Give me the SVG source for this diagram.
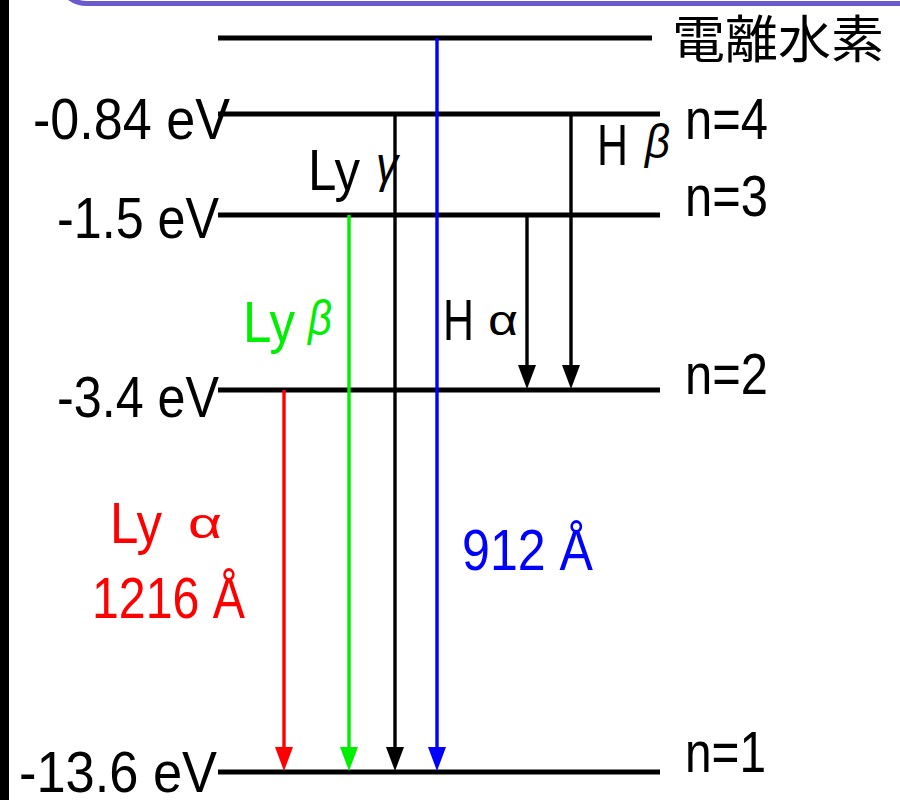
<svg xmlns="http://www.w3.org/2000/svg" width="900" height="800" viewBox="0 0 900 800">
<style>
.lvl{stroke:#000;stroke-width:5;fill:none}
.tr{stroke-width:3.4;fill:none}
.t{font-family:"Liberation Sans",Arial,sans-serif;font-size:57px}
.g{font-family:"Liberation Sans",Arial,sans-serif}
</style>
<defs>
<marker id="aK" markerUnits="userSpaceOnUse" viewBox="0 0 24 18" refX="14" refY="9" markerWidth="24" markerHeight="18" orient="auto"><path d="M0,0L24,9L0,18z" fill="#000"/></marker>
<marker id="aR" markerUnits="userSpaceOnUse" viewBox="0 0 24 18" refX="14" refY="9" markerWidth="24" markerHeight="18" orient="auto"><path d="M0,0L24,9L0,18z" fill="#ff0000"/></marker>
<marker id="aG" markerUnits="userSpaceOnUse" viewBox="0 0 24 18" refX="14" refY="9" markerWidth="24" markerHeight="18" orient="auto"><path d="M0,0L24,9L0,18z" fill="#00ee00"/></marker>
<marker id="aB" markerUnits="userSpaceOnUse" viewBox="0 0 24 18" refX="14" refY="9" markerWidth="24" markerHeight="18" orient="auto"><path d="M0,0L24,9L0,18z" fill="#0000ff"/></marker>
</defs>
<rect x="0" y="0" width="900" height="800" fill="#fff"/>
<rect x="0" y="0" width="9" height="800" fill="#000"/>
<rect x="56.5" y="-60" width="900" height="63.5" rx="30.5" fill="none" stroke="#6a5acd" stroke-width="5"/>

<g id="ionized">
<line class="lvl" x1="218" y1="38" x2="652" y2="38"/>
<text x="672" y="58" font-family="'Noto Sans CJK JP','Noto Sans CJK TC',sans-serif" font-size="51" textLength="212" lengthAdjust="spacingAndGlyphs">電離水素</text>
</g>
<g id="n4">
<line class="lvl" x1="218" y1="114" x2="660" y2="114"/>
<text class="t" x="33" y="139" textLength="197" lengthAdjust="spacingAndGlyphs">-0.84 eV</text>
<text class="t" x="685" y="139" textLength="83" lengthAdjust="spacingAndGlyphs">n=4</text>
</g>
<g id="n3">
<line class="lvl" x1="218" y1="215" x2="660" y2="215"/>
<text class="t" x="57" y="238" textLength="162" lengthAdjust="spacingAndGlyphs">-1.5 eV</text>
<text class="t" x="685" y="216" textLength="83" lengthAdjust="spacingAndGlyphs">n=3</text>
</g>
<g id="n2">
<line class="lvl" x1="218" y1="390" x2="660" y2="390"/>
<text class="t" x="57" y="417" textLength="162" lengthAdjust="spacingAndGlyphs">-3.4 eV</text>
<text class="t" x="685" y="394" textLength="83" lengthAdjust="spacingAndGlyphs">n=2</text>
</g>
<g id="n1">
<line class="lvl" x1="218" y1="772" x2="660" y2="772"/>
<text class="t" x="19" y="792" textLength="198" lengthAdjust="spacingAndGlyphs">-13.6 eV</text>
<text class="t" x="685" y="772" textLength="81" lengthAdjust="spacingAndGlyphs">n=1</text>
</g>

<g id="connectors">
<line class="tr" stroke="#ff0000" x1="284" y1="390" x2="284" y2="761" marker-end="url(#aR)"/>
<line class="tr" stroke="#00ee00" x1="349" y1="215" x2="349" y2="761" marker-end="url(#aG)"/>
<line class="tr" stroke="#000" x1="395" y1="114" x2="395" y2="761" marker-end="url(#aK)"/>
<line class="tr" stroke="#0000ff" x1="437" y1="38" x2="437" y2="761" marker-end="url(#aB)"/>
<line class="tr" stroke="#000" x1="527" y1="215" x2="527" y2="379" marker-end="url(#aK)"/>
<line class="tr" stroke="#000" x1="571" y1="114" x2="571" y2="379" marker-end="url(#aK)"/>
</g>

<g id="label-lygamma">
<text class="t" x="308" y="190" textLength="52" lengthAdjust="spacingAndGlyphs">Ly</text>
<text class="g" x="376" y="182" font-size="50" font-style="italic" textLength="22" lengthAdjust="spacingAndGlyphs">γ</text>
</g>
<g id="label-hbeta">
<text class="t" x="597" y="165" textLength="31" lengthAdjust="spacingAndGlyphs">H</text>
<text class="g" x="645" y="158" font-size="48" font-style="italic" textLength="25" lengthAdjust="spacingAndGlyphs">β</text>
</g>
<g id="label-lybeta" fill="#00ee00">
<text class="t" x="243" y="342" textLength="52" lengthAdjust="spacingAndGlyphs">Ly</text>
<text class="g" x="308" y="335" font-size="50" font-style="italic" textLength="24" lengthAdjust="spacingAndGlyphs">β</text>
</g>
<g id="label-halpha">
<text class="t" x="443" y="340" textLength="31" lengthAdjust="spacingAndGlyphs">H</text>
<text class="g" x="488" y="335" font-size="42" textLength="30" lengthAdjust="spacingAndGlyphs">α</text>
</g>
<g id="label-lyalpha" fill="#ff0000">
<text class="t" x="110" y="543" textLength="52" lengthAdjust="spacingAndGlyphs">Ly</text>
<text class="g" x="188" y="538" font-size="42" textLength="34" lengthAdjust="spacingAndGlyphs">α</text>
<text class="t" x="92" y="618" textLength="153" lengthAdjust="spacingAndGlyphs">1216 Å</text>
</g>
<g id="label-912" fill="#0000ff">
<text class="t" x="462" y="570" textLength="131" lengthAdjust="spacingAndGlyphs">912 Å</text>
</g>
</svg>
